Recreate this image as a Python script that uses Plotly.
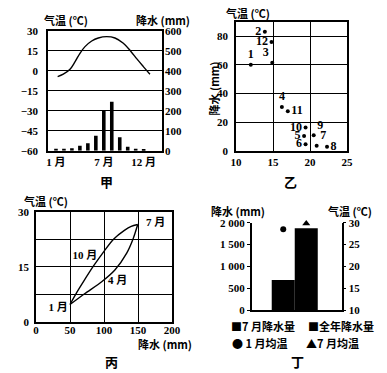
import plotly.graph_objects as go

W, H = 387, 373
NUM_FONT = "Liberation Serif, Noto Sans CJK SC, serif"
CJK_FONT = "Noto Sans CJK SC, sans-serif"

# ---------------- 甲 ----------------
jia_months = [1, 2, 3, 4, 5, 6, 7, 8, 9, 10, 11, 12]
jia_precip = [10, 10, 12, 25, 37, 75, 200, 245, 67, 20, 10, 7]
jia_curve_month = [1.21, 1.92, 2.76, 3.38, 4.01, 4.64, 5.48, 6.31, 7.36, 8.40, 9.45, 10.35, 11.15, 11.96, 12.79]
jia_curve_temp = [-4.25, -2.5, 1.25, 6.75, 13.25, 18.25, 22.5, 24.75, 25.75, 24.75, 20.75, 15.0, 9.0, 3.25, -2.5]
jia_temp_ticks = [-60, -45, -30, -15, 0, 15, 30]
jia_precip_ticks = [0, 100, 200, 300, 400, 500, 600]
jia_month_ticks = [1, 7, 12]
jia_month_labels = ["1 月", "7 月", "12 月"]

# ---------------- 乙 ----------------
yi_month = ["1", "2", "3", "4", "5", "6", "7", "8", "9", "10", "11", "12"]
yi_temp = [12.0, 13.9, 14.9, 16.2, 19.2, 19.4, 20.9, 22.3, 20.5, 19.4, 17.0, 14.8]
yi_precip = [60, 83, 61.4, 30.7, 10.5, 4.7, 3.7, 3.0, 10.9, 16.3, 27.7, 75.8]
yi_textpos = ["top center", "middle left", "top left", "top center", "middle left", "middle left",
              "top right", "middle right", "top right", "middle left", "middle right", "middle left"]
yi_temp_ticks = [10, 15, 20, 25]
yi_precip_ticks = [0, 20, 40, 60, 80]

# ---------------- 丙 ----------------
bing_lower_precip = [50, 72, 96.6, 116, 133.4, 143, 149.6]
bing_lower_temp = [4.7, 7.7, 10.9, 14.1, 18.7, 22.7, 26.5]
bing_upper_precip = [149.6, 140, 130, 114, 100, 84.6, 70, 60, 50]
bing_upper_temp = [26.5, 26.0, 24.9, 22.5, 19.2, 15.2, 11.0, 8.0, 4.7]
bing_label_text = ["1 月", "4 月", "7 月", "10 月"]
bing_label_precip = [32.6, 120, 176, 72]
bing_label_temp = [3.6, 10.9, 26.9, 17.9]
bing_precip_ticks = [0, 50, 100, 150, 200]
bing_temp_ticks = [0, 7.5, 15, 22.5, 30]
bing_temp_ticklabels = ["0", "", "15", "", "30"]

# ---------------- 丁 ----------------
ding_categories = ["7月降水量", "全年降水量"]
ding_precip = [690, 1870]
ding_jan_temp = [28.5]
ding_jul_temp = [29.8]
ding_precip_ticks = [0, 500, 1000, 1500, 2000]
ding_precip_ticklabels = ["0", "500", "1 000", "1 500", "2 000"]
ding_temp_ticks = [10, 15, 20, 25, 30]


def xd(a, b):
    return [a / W, b / W]


def yd(top, bottom):
    return [1 - bottom / H, 1 - top / H]


tickfont = dict(family=NUM_FONT, size=11, color="black", weight="bold")
LW = 1.5

fig = go.Figure()

# 甲
fig.add_trace(go.Bar(x=jia_months, y=jia_precip, width=0.45, marker_color="black",
                     marker_line_width=0, xaxis="x", yaxis="y2", showlegend=False))
fig.add_trace(go.Scatter(x=jia_curve_month, y=jia_curve_temp, mode="lines",
                         line=dict(color="black", width=1.4, shape="spline"),
                         xaxis="x", yaxis="y", showlegend=False))

# 乙
fig.add_trace(go.Scatter(x=yi_temp, y=yi_precip, mode="markers+text", text=yi_month,
                         textposition=yi_textpos,
                         textfont=dict(family=NUM_FONT, size=12, color="black", weight="bold"),
                         marker=dict(color="black", size=4), xaxis="x2", yaxis="y3",
                         showlegend=False, cliponaxis=False))

# 丙
fig.add_trace(go.Scatter(x=bing_lower_precip, y=bing_lower_temp, mode="lines",
                         line=dict(color="black", width=1.4, shape="spline", smoothing=0.8),
                         xaxis="x3", yaxis="y4", showlegend=False))
fig.add_trace(go.Scatter(x=bing_upper_precip, y=bing_upper_temp, mode="lines",
                         line=dict(color="black", width=1.4, shape="spline", smoothing=0.8),
                         xaxis="x3", yaxis="y4", showlegend=False))
fig.add_trace(go.Scatter(x=bing_label_precip, y=bing_label_temp, mode="text", text=bing_label_text,
                         textfont=dict(family=NUM_FONT, size=11, color="black", weight="bold"),
                         xaxis="x3", yaxis="y4", showlegend=False, cliponaxis=False))

# 丁
fig.add_trace(go.Bar(x=ding_categories, y=ding_precip, width=1, marker_color="black",
                     marker_line_width=0, xaxis="x4", yaxis="y5", showlegend=False))
fig.add_trace(go.Scatter(x=ding_categories[:1], y=ding_jan_temp, mode="markers",
                         marker=dict(color="black", size=6, symbol="circle"),
                         xaxis="x4", yaxis="y6", showlegend=False, cliponaxis=False))
fig.add_trace(go.Scatter(x=ding_categories[1:], y=ding_jul_temp, mode="markers",
                         marker=dict(color="black", size=7, symbol="triangle-up"),
                         xaxis="x4", yaxis="y6", showlegend=False, cliponaxis=False))

box = dict(showline=True, linecolor="black", linewidth=LW, mirror=True, zeroline=False,
           tickfont=tickfont, ticks="", automargin=False)

fig.update_layout(
    width=W, height=H, margin=dict(l=0, r=0, t=0, b=0, autoexpand=False),
    paper_bgcolor="white", plot_bgcolor="white", showlegend=False,
    # 甲
    xaxis=dict(domain=xd(48, 162), range=[0, 14.3], tickvals=jia_month_ticks,
               ticktext=jia_month_labels, showgrid=False, anchor="y",
               tickfont=dict(family=NUM_FONT, size=11, color="black", weight="bold"),
               showline=True, linecolor="black", linewidth=LW, mirror=True, zeroline=False,
               ticks="", ticklabelstandoff=0, automargin=False),
    yaxis=dict(domain=yd(31, 150.7), range=[-60, 30], tickvals=jia_temp_ticks,
               showgrid=True, gridcolor="black", gridwidth=1.4, anchor="x",
               ticklabelstandoff=6, **box),
    yaxis2=dict(range=[0, 600], tickvals=jia_precip_ticks, overlaying="y", side="right",
                anchor="x", showgrid=False, showline=False, zeroline=False, tickfont=tickfont,
                ticks="", ticklabelstandoff=2, automargin=False),
    # 乙
    xaxis2=dict(domain=xd(236, 347), range=[10, 25], tickvals=yi_temp_ticks, showgrid=True,
                gridcolor="black", gridwidth=1.4, anchor="y3", ticklabelstandoff=0, **box),
    yaxis3=dict(domain=yd(21.7, 151), range=[0, 90], tickvals=yi_precip_ticks, showgrid=True,
                gridcolor="black", gridwidth=1.4, anchor="x2", ticklabelstandoff=4, **box),
    # 丙
    xaxis3=dict(domain=xd(36, 172), range=[0, 200], tickvals=bing_precip_ticks, showgrid=True,
                gridcolor="black", gridwidth=1.4, anchor="y4", ticklabelstandoff=-3, **box),
    yaxis4=dict(domain=yd(211.7, 321.7), range=[0, 30], tickvals=bing_temp_ticks,
                ticktext=bing_temp_ticklabels, showgrid=True, gridcolor="black", gridwidth=1.4,
                anchor="x3", ticklabelstandoff=3, **box),
    # 丁
    xaxis4=dict(domain=xd(251.7, 341.7), range=[-1.37, 2.54], type="category",
                showticklabels=False, showgrid=False, showline=True, linecolor="black",
                linewidth=LW, mirror=False, ticks="", anchor="y5", zeroline=False,
                automargin=False),
    yaxis5=dict(domain=yd(222.7, 310), range=[0, 2000], tickvals=ding_precip_ticks,
                ticktext=ding_precip_ticklabels, showgrid=False, showline=True,
                linecolor="black", linewidth=LW, ticks="outside", ticklen=3, tickwidth=1.2,
                tickcolor="black", tickfont=tickfont, anchor="x4", zeroline=False,
                automargin=False),
    yaxis6=dict(range=[10, 30], tickvals=ding_temp_ticks, overlaying="y5", side="right",
                anchor="x4", showgrid=False, showline=True, linecolor="black", linewidth=LW,
                ticks="outside", ticklen=3, tickwidth=1.2, tickcolor="black",
                tickfont=tickfont, zeroline=False, automargin=False),
)


def ann(text, px, py, size=11, xanchor="center", angle=0):
    fig.add_annotation(text=text, x=px / W, y=1 - py / H, xref="paper", yref="paper",
                       showarrow=False, xanchor=xanchor, yanchor="middle", textangle=angle,
                       font=dict(family=CJK_FONT, size=size, color="black", weight="bold"))


# panel captions
ann("甲", 106, 181, 13)
ann("乙", 290, 181, 13)
ann("丙", 111.7, 361.7, 13)
ann("丁", 297, 361.7, 13)

# axis titles
ann("气温 (℃)", 65.5, 19.5)
ann("降水 (mm)", 163, 19.5)
ann("气温 (℃)", 248, 13)
ann("降水 (mm)", 213, 88.5, angle=-90)
ann("气温 (℃)", 45.5, 200.7)
ann("降水 (mm)", 165.3, 343.5)
ann("降水 (mm)", 237.7, 211)
ann("气温 (℃)", 349.7, 211)

# legend of 丁
ann("■7 月降水量", 229, 325.7, xanchor="left")
ann("■全年降水量", 306, 325.7, xanchor="left")
ann("● 1 月均温", 230, 342.7, xanchor="left", size=11)
ann("▲7 月均温", 304, 342.7, xanchor="left")

fig.write_html(
    "out.html",
    config={"displayModeBar": False},
    post_script="document.body.style.margin='0';document.body.style.padding='0';"
                "document.body.style.overflow='hidden';",
)
